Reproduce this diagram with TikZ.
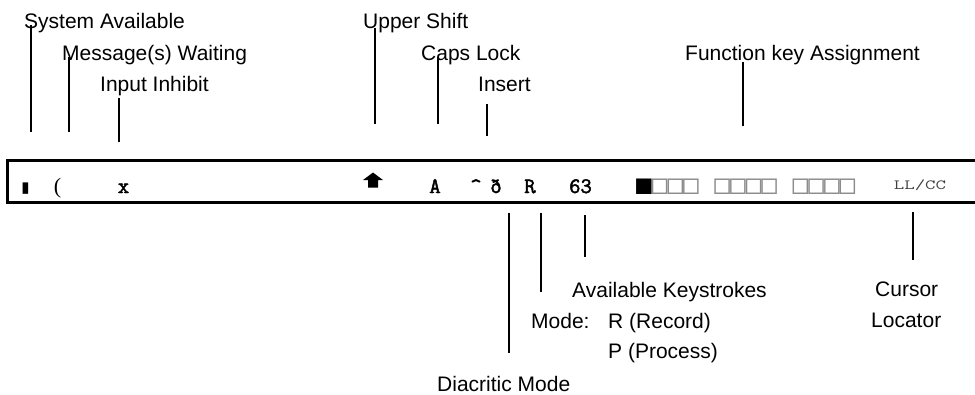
\documentclass[tikz,border=0pt]{standalone}
\usepackage{fontspec}
\usepackage{graphicx}
\setmainfont{Liberation Sans}
\newfontfamily\djsans{DejaVu Sans}
\newfontfamily\djmono{DejaVu Sans Mono}
\newfontfamily\serifont{Liberation Serif}
\newfontfamily\courbold{Latin Modern Mono}[FakeBold=2.2]
\newfontfamily\courreg{Latin Modern Mono}
\begin{document}
\begin{tikzpicture}[x=1pt,y=-1pt,
  lbl/.style={inner sep=0pt,anchor=base west,font=\fontsize{21}{25}\selectfont},
  key/.style={inner sep=0pt,anchor=base,font=\courbold\fontsize{22}{26}\selectfont},
  pointer/.style={line width=2pt},
  frame/.style={line width=3pt}]
\useasboundingbox (0,0) rectangle (975,394);
% status line frame
\draw[frame] (990,160) -- (7.5,160) -- (7.5,202) -- (990,202);
% in-line symbols
\node[inner sep=0pt,anchor=base,font=\djsans\fontsize{15}{18}\selectfont] (sa) at (25.5,192) {▮};
\node[inner sep=0pt,anchor=base,font=\serifont\fontsize{22}{26}\selectfont] (mw) at (57.5,193) {(};
\node[key] (ii) at (123.5,193) {x};
\fill (363,180) -- (373,172.5) -- (383,180) -- (378,180) -- (378,187.5) -- (368,187.5) -- (368,180) -- cycle;
\coordinate (us) at (373,172);
\node[key] (cl) at (435,193) {A};
\node[key] (in) at (476,193) {\textasciicircum};
\node[key] (dm) at (496,193) {ð};
\node[key] (md) at (530,193) {R};
\node[key] (ak) at (580.5,193) {63};
\node[inner sep=0pt,anchor=base west,font=\djmono\fontsize{26}{30}\selectfont] (fk) at (636,193) {■\textcolor{black!45}{□□□ □□□□ □□□□}};
\node[inner sep=0pt,anchor=base,font=\courreg\fontsize{14}{17}\selectfont,text=black!75] (cu) at (920,189) {\scalebox{1.45}[1]{LL/CC}};
% upper labels
\node[lbl] (tSA) at (24,28) {System Available};
\node[lbl] (tMW) at (62,60) {Message(s) Waiting};
\node[lbl] (tII) at (100,91) {Input Inhibit};
\node[lbl] (tUS) at (363,28) {Upper Shift};
\node[lbl] (tCL) at (421,60) {Caps Lock};
\node[lbl] (tIN) at (478,91) {Insert};
\node[lbl] (tFK) at (685,60) {Function key Assignment};
% lower labels
\node[lbl] (tAK) at (572,297) {Available Keystrokes};
\node[lbl] (tMD) at (531,328) {Mode:};
\node[lbl] (tR) at (608,328) {R (Record)};
\node[lbl] (tP) at (608,358) {P (Process)};
\node[lbl] (tDM) at (437,391) {Diacritic Mode};
\node[lbl] (tC1) at (875,296) {Cursor};
\node[lbl] (tC2) at (871,327) {Locator};
% pointer end points
\coordinate (a1) at (31,25);   \coordinate (a2) at (31,132);
\coordinate (b1) at (69,57);   \coordinate (b2) at (69,132);
\coordinate (c1) at (119,98);  \coordinate (c2) at (119,142);
\coordinate (d1) at (375,28);  \coordinate (d2) at (375,124);
\coordinate (e1) at (438,57);  \coordinate (e2) at (438,124);
\coordinate (f1) at (487,104); \coordinate (f2) at (487,136);
\coordinate (g1) at (743,62);  \coordinate (g2) at (743,126);
\coordinate (h1) at (509,213); \coordinate (h2) at (509,353);
\coordinate (i1) at (541,213); \coordinate (i2) at (541,292);
\coordinate (j1) at (585,215); \coordinate (j2) at (585,257);
\coordinate (k1) at (913,212); \coordinate (k2) at (913,260);
\draw[pointer] (a1) -- (a2);
\draw[pointer] (b1) -- (b2);
\draw[pointer] (c1) -- (c2);
\draw[pointer] (d1) -- (d2);
\draw[pointer] (e1) -- (e2);
\draw[pointer] (f1) -- (f2);
\draw[pointer] (g1) -- (g2);
\draw[pointer] (h1) -- (h2);
\draw[pointer] (i1) -- (i2);
\draw[pointer] (j1) -- (j2);
\draw[pointer] (k1) -- (k2);
\end{tikzpicture}
\end{document}
